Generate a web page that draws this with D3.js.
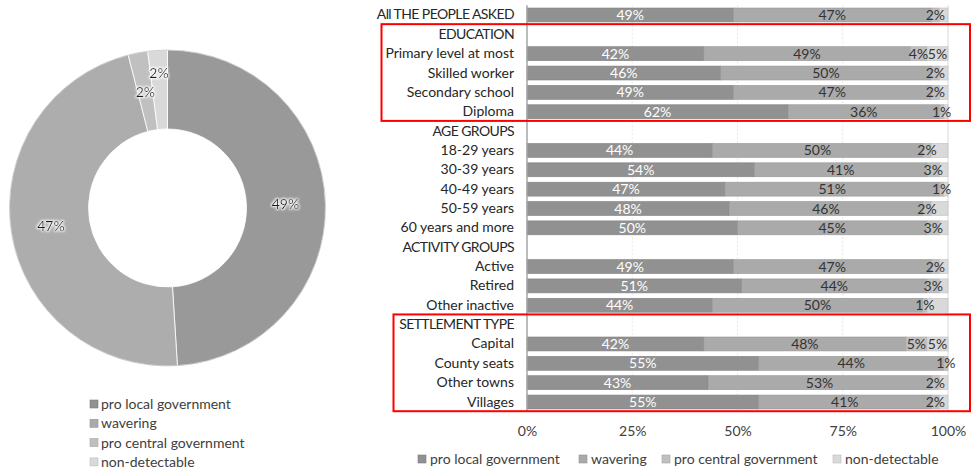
<!DOCTYPE html>
<html>
<head>
<meta charset="utf-8">
<script src="https://cdn.jsdelivr.net/npm/d3@7/dist/d3.min.js"></script>
<style>
  html, body { margin: 0; padding: 0; background: #fff; }
  svg { display: block; font-family: Lato, "Open Sans", sans-serif; }
</style>
</head>
<body>
<svg id="chart" width="974" height="471"></svg>
<script>
// ---- data ----
const seriesNames = ["pro local government", "wavering", "pro central government", "non-detectable"];
const seriesColors = ["#919191", "#aaaaaa", "#bfbfbf", "#d9d9d9"];

// overall split shown in the donut
const overallValues = [49, 47, 2, 2];

// rows of the stacked bar chart (group headings have no values)
const categories = [
  "All THE PEOPLE ASKED", "EDUCATION", "Primary level at most", "Skilled worker",
  "Secondary school", "Diploma", "AGE GROUPS", "18-29 years", "30-39 years",
  "40-49 years", "50-59 years", "60 years and more", "ACTIVITY GROUPS", "Active",
  "Retired", "Other inactive", "SETTLEMENT TYPE", "Capital", "County seats",
  "Other towns", "Villages"
];
const proLocal   = [49, null, 42, 46, 49, 62, null, 44, 54, 47, 48, 50, null, 49, 51, 44, null, 42, 55, 43, 55];
const wavering   = [47, null, 49, 50, 47, 36, null, 50, 41, 51, 46, 45, null, 47, 44, 50, null, 48, 44, 53, 41];
const proCentral = [ 2, null,  4,  2,  2,  1, null,  2,  3,  1,  2,  3, null,  2,  3,  1, null,  5,  1,  2,  2];
const nonDetect  = [ 2, null,  5,  2,  2,  1, null,  4,  2,  1,  4,  2, null,  2,  2,  5, null,  5,  0,  2,  2];
// rows whose non-detectable share is printed
const nonDetectLabelled = ["Primary level at most", "Capital"];

const xTicks = [0, 25, 50, 75, 100];
const xTickLabels = ["0%", "25%", "50%", "75%", "100%"];

// highlighted groups (first and last row of each frame)
const highlightGroups = [["EDUCATION", "Diploma"], ["SETTLEMENT TYPE", "Villages"]];

// ---- drawing ----
const svg = d3.select("#chart");
const fmt = v => v + "%";

// soft white glow behind donut labels
const defs = svg.append("defs");
const glow = defs.append("filter").attr("id", "glow")
  .attr("x", "-30%").attr("y", "-50%").attr("width", "160%").attr("height", "200%");
glow.append("feMorphology").attr("in", "SourceAlpha").attr("operator", "dilate").attr("radius", 1.2).attr("result", "d");
glow.append("feGaussianBlur").attr("in", "d").attr("stdDeviation", 1.3).attr("result", "b");
glow.append("feFlood").attr("flood-color", "#ffffff").attr("flood-opacity", 0.9);
glow.append("feComposite").attr("in2", "b").attr("operator", "in").attr("result", "g");
const merge = glow.append("feMerge");
merge.append("feMergeNode").attr("in", "g");
merge.append("feMergeNode").attr("in", "SourceGraphic");

/* Donut */
const donut = svg.append("g").attr("transform", "translate(167.5,208)");
const pie = d3.pie().sort(null).value(d => d.value);
const arcs = pie(overallValues.map((v, i) => ({ value: v, i })));
const arc = d3.arc().innerRadius(79).outerRadius(158);
const labelArc = d3.arc().innerRadius(118).outerRadius(118);
const outerLabelArc = d3.arc().innerRadius(135).outerRadius(135);
const donutColors = ["#999999", "#adadad", "#c0c0c0", "#d9d9d9"];

donut.selectAll("path.slice").data(arcs).join("path")
  .attr("class", "slice")
  .attr("d", arc)
  .attr("fill", d => donutColors[d.data.i])
  .attr("stroke", "#ffffff")
  .attr("stroke-width", 0.8);

donut.append("circle").attr("r", 158).attr("fill", "none")
  .attr("stroke", "#8c8c8c").attr("stroke-width", 0.6).attr("stroke-opacity", 0.6);

donut.selectAll("text.dl").data(arcs).join("text")
  .attr("class", "dl")
  .attr("transform", d => {
    const c = (d.data.i === 3 ? outerLabelArc : labelArc).centroid(d);
    return `translate(${c[0]},${c[1]})`;
  })
  .attr("text-anchor", "middle")
  .attr("dy", "0.35em")
  .attr("font-size", 14)
  .attr("fill", "#1a1a1a")
  .attr("filter", "url(#glow)")
  .text(d => fmt(d.data.value));

/* Donut legend */
const dLegend = svg.append("g").attr("transform", "translate(90,404)");
seriesNames.forEach((name, i) => {
  const g = dLegend.append("g").attr("transform", `translate(0,${i * 19.3})`);
  g.append("rect").attr("x", 0).attr("y", -4).attr("width", 8).attr("height", 8)
    .attr("fill", seriesColors[i]).attr("stroke", d3.color(seriesColors[i]).darker(0.4)).attr("stroke-width", 0.6);
  g.append("text").attr("x", 11).attr("dy", "0.35em").attr("font-size", 14)
    .attr("fill", "#404040").text(name);
});

/* Stacked bars */
const plotLeft = 527, plotRight = 948, plotTop = 5.3, plotBottom = 411.7;
const x = d3.scaleLinear().domain([0, 100]).range([plotLeft, plotRight]);
const y = d3.scaleBand().domain(categories).range([plotTop, plotBottom]).paddingInner(0.28).paddingOuter(0.14);

const seriesArrays = [proLocal, wavering, proCentral, nonDetect];
const rows = categories.map((c, r) => {
  const o = { category: c };
  seriesNames.forEach((s, k) => { o[s] = seriesArrays[k][r]; });
  return o;
});
const dataRows = rows.filter(r => r[seriesNames[0]] !== null);
const stacked = d3.stack().keys(seriesNames)(dataRows);

// gridlines
const grid = svg.append("g");
grid.selectAll("line").data(xTicks.slice(1)).join("line")
  .attr("x1", d => x(d)).attr("x2", d => x(d))
  .attr("y1", plotTop).attr("y2", plotBottom)
  .attr("stroke", d => d === 100 ? "#d9d9d9" : "#e6e6e6")
  .attr("stroke-width", 1)
  .attr("stroke-dasharray", d => d === 100 ? null : "2,2");

// bars
const barG = svg.append("g");
stacked.forEach((layer, k) => {
  barG.append("g").selectAll("rect").data(layer).join("rect")
    .attr("x", d => x(d[0]))
    .attr("y", d => y(d.data.category))
    .attr("width", d => Math.max(0, x(d[1]) - x(d[0])))
    .attr("height", y.bandwidth())
    .attr("fill", seriesColors[k])
    .attr("stroke", d3.color(seriesColors[k]).darker(0.35))
    .attr("stroke-width", 0.6);
});

// data labels
const labG = svg.append("g").attr("font-size", 14).attr("text-anchor", "middle");
stacked.forEach((layer, k) => {
  const items = layer.filter(d => {
    const v = d[1] - d[0];
    if (v <= 0) return false;
    if (k === 3) return nonDetectLabelled.includes(d.data.category);
    return true;
  });
  labG.append("g").selectAll("text").data(items).join("text")
    .attr("x", d => x((d[0] + d[1]) / 2))
    .attr("y", d => y(d.data.category) + y.bandwidth() / 2)
    .attr("dy", "0.36em")
    .attr("fill", k === 0 ? "#ffffff" : "#333333")
    .text(d => fmt(d[1] - d[0]));
});

// y axis line
svg.append("line")
  .attr("x1", plotLeft).attr("x2", plotLeft)
  .attr("y1", plotTop).attr("y2", plotBottom)
  .attr("stroke", "#a6a6a6").attr("stroke-width", 1.5);

// category labels (capitalised headings set a little tighter)
const isCaps = s => (s.match(/[A-Z]/g) || []).length > s.replace(/[^A-Za-z]/g, "").length / 2;
const yAxis = d3.axisLeft(y).tickSize(0).tickPadding(13);
const yg = svg.append("g").attr("transform", `translate(${plotLeft},0)`).call(yAxis);
yg.select(".domain").remove();
yg.selectAll("text").attr("font-size", 14).attr("fill", "#262626")
  .attr("font-family", "Lato, 'Open Sans', sans-serif")
  .attr("letter-spacing", d => isCaps(d) ? -0.6 : null);

// x axis labels
const xAxis = d3.axisBottom(x).tickValues(xTicks).tickFormat((d, i) => xTickLabels[i]).tickSize(0).tickPadding(0);
const xg = svg.append("g").attr("transform", `translate(0,${426})`).call(xAxis);
xg.select(".domain").remove();
xg.selectAll("text").attr("font-size", 14).attr("fill", "#404040")
  .attr("font-family", "Lato, 'Open Sans', sans-serif");

// highlight frames
const frameLeft = [381.5, 393.5];
highlightGroups.forEach((pair, i) => {
  const top = y(pair[0]) - (y.step() - y.bandwidth()) / 2 - 0.5;
  const bottom = y(pair[1]) + y.bandwidth() + (y.step() - y.bandwidth()) / 2 - 0.5;
  svg.append("rect")
    .attr("x", frameLeft[i]).attr("y", top)
    .attr("width", 970 - frameLeft[i]).attr("height", bottom - top)
    .attr("fill", "none").attr("stroke", "#ff0000").attr("stroke-width", 2);
});

// bar legend
const legendX = [418, 579, 662, 833];
const bLegend = svg.append("g").attr("transform", "translate(0,459)");
seriesNames.forEach((name, i) => {
  const g = bLegend.append("g").attr("transform", `translate(${legendX[i]},0)`);
  g.append("rect").attr("x", 0).attr("y", -4).attr("width", 8).attr("height", 8)
    .attr("fill", seriesColors[i]).attr("stroke", d3.color(seriesColors[i]).darker(0.4)).attr("stroke-width", 0.6);
  g.append("text").attr("x", 12).attr("dy", "0.35em").attr("font-size", 14)
    .attr("fill", "#404040").text(name);
});
</script>
</body>
</html>
